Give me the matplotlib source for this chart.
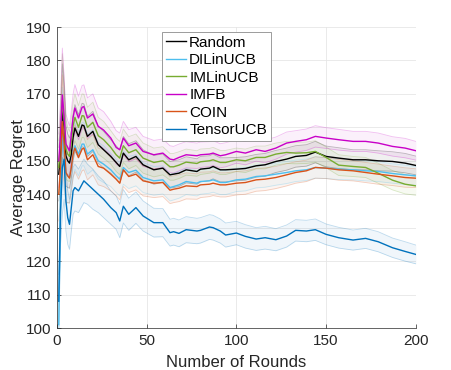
import numpy as np
import matplotlib
matplotlib.use("Agg")
import matplotlib.pyplot as plt

plt.rcParams['font.family'] = ['Liberation Sans', 'DejaVu Sans']

rounds = [1, 2, 3, 4, 5, 6, 7, 8, 9, 10, 12, 14, 15, 17, 20, 23, 26, 30, 33, 35,
          37, 40, 44, 48, 54, 59, 63, 65, 68, 72, 78, 80, 85, 87, 91, 94, 100, 105,
          111, 116, 122, 128, 133, 139, 144, 150, 157, 165, 172, 179, 187, 194, 200]

random_reg = [146, 152, 165, 160, 151.5, 150, 149.3, 152, 157, 159.8, 157.3, 160.7, 160.5,
              157.3, 158.8, 154.8, 153.3, 151.3, 149.5, 148.3, 152.3, 150.3, 151.3, 148.8,
              147.3, 147.8, 145.8, 146, 146.3, 147.3, 146.8, 147.5, 147.8, 148.3, 147.3,
              147.3, 147.5, 147.7, 148.5, 148.8, 149.8, 150.5, 151.3, 151.6, 152.6, 151.3,
              150.8, 150.3, 150.3, 150, 149.8, 149.3, 148.6]
dilinucb = [101, 140, 158, 153, 146, 145.5, 145, 148, 152, 154.5, 152, 155, 155, 152, 153.3,
            150, 149, 147.3, 145.5, 144.5, 148, 146.5, 147.2, 145, 144, 144.3, 142, 142.3,
            142.8, 143.8, 143.3, 143.8, 144, 144.3, 143.5, 143.5, 144.3, 144.5, 145.3, 145.5,
            146, 146.5, 147, 147.3, 148, 147.8, 147.5, 147.3, 147, 146.8, 146.2, 145.8, 145.5]
imlinucb = [148, 156, 168, 162, 153.5, 152, 151.3, 155.5, 160.5, 163, 160, 163.5, 163.4, 160,
            161.5, 157.5, 156.3, 154, 151.8, 150.8, 154.5, 152.4, 153.3, 150.8, 149.5, 150,
            148.2, 148.2, 148.7, 149.6, 149.2, 149.7, 150, 150.3, 149.5, 149.5, 150.3, 150,
            151, 151, 152, 152.5, 152.3, 152.4, 152.8, 151, 148.7, 148.3, 148, 146.3, 144.2,
            143, 142.5]
imfb = [150, 158, 169.7, 163, 155, 154, 153, 158, 163, 165.8, 162.8, 166, 166.2, 162.8, 164,
        160.3, 159.2, 156.8, 154, 153.3, 156.8, 154.5, 155.3, 152.8, 151.8, 152.3, 150.5, 150.3,
        151, 151.8, 151.5, 151.8, 152, 152.3, 151.5, 151.8, 152.8, 152.3, 153.3, 152.8, 153.8,
        155.3, 155.8, 156.3, 157.3, 156.8, 156.3, 155.8, 155.8, 155.3, 154.3, 153.8, 153]
coin = [140, 148, 161.7, 155, 146.5, 145.5, 144.8, 148, 152, 153.8, 151, 153.5, 153.8, 150.3,
        151.8, 148.3, 147.8, 146, 144.5, 143.3, 147.3, 145.3, 146, 144, 143.3, 143.5, 141.2,
        141.5, 141.8, 142.5, 142.3, 142.8, 143, 143.3, 142.8, 142.8, 143.3, 143.5, 144.3,
        144.5, 145, 145.8, 146.5, 147, 148, 147.8, 147.3, 147, 146.5, 146, 145.5, 145, 144.8]
tensorucb = [108, 135, 148, 150.5, 138, 133, 131, 136, 141, 142, 141, 143, 144, 143, 141.5,
             140, 138.5, 136, 134.5, 132, 136.4, 134, 136, 133.5, 131.5, 131.5, 128.5, 128.8,
             128.3, 129.4, 129, 129.2, 130.2, 130, 129, 127.8, 128.4, 127.4, 126.6, 127, 126.4,
             127.5, 129.2, 129, 129.4, 128, 127, 126.3, 126.8, 125.8, 124, 122.9, 122]

# half width of the shaded band around each curve
band_hw = [8, 10, 14, 12, 9, 8, 7.5, 7, 7, 7, 6.5, 6.5, 6.5, 6, 6, 5.5, 5.5, 5, 5, 5, 5, 4.8,
           4.7, 4.5, 4.3, 4.2, 4, 4, 4, 3.9, 3.8, 3.8, 3.7, 3.7, 3.6, 3.6, 3.5, 3.5, 3.4, 3.4,
           3.3, 3.3, 3.2, 3.2, 3.2, 3.1, 3.1, 3, 3, 3, 2.9, 2.9, 2.8]

names = ["Random", "DILinUCB", "IMLinUCB", "IMFB", "COIN", "TensorUCB"]
series = [random_reg, dilinucb, imlinucb, imfb, coin, tensorucb]
colors = ["#000000", "#4DBEEE", "#77AC30", "#C800C8", "#D95319", "#0072BD"]

x = np.array(rounds)
hw = np.array(band_hw)

fig = plt.figure(figsize=(4.52, 3.70), dpi=100)
ax = fig.add_axes([0.126, 0.1135, 0.794, 0.8135])

for y, c in zip(series, colors):
    y = np.array(y)
    ax.fill_between(x, y - hw, y + hw, color=c, alpha=0.06, linewidth=0)
    ax.plot(x, y - hw, color=c, alpha=0.25, linewidth=0.6)
    ax.plot(x, y + hw, color=c, alpha=0.25, linewidth=0.6)

for y, c, n in zip(series, colors, names):
    ax.plot(x, y, color=c, linewidth=1.0, label=n)

ax.set_xlim(0, 200)
ax.set_ylim(100, 190)
ax.set_xticks(range(0, 201, 50))
ax.set_yticks(range(100, 191, 10))
ax.grid(True, color="#e6e6e6", linewidth=0.6)
ax.set_axisbelow(True)
for s in ["top", "right"]:
    ax.spines[s].set_visible(False)
for s in ["left", "bottom"]:
    ax.spines[s].set_color("#262626")
    ax.spines[s].set_linewidth(0.5)
ax.tick_params(direction="in", length=3, width=0.5, labelsize=11, colors="#262626", pad=4)

ax.set_xlabel("Number of Rounds", fontsize=12, color="#262626", labelpad=5)
ax.set_ylabel("Average Regret", fontsize=12, color="#262626", labelpad=0)

leg = ax.legend(loc="upper left", bbox_to_anchor=(0.294, 0.984), borderaxespad=0,
                fontsize=11, handlelength=1.3, handletextpad=0.2, labelspacing=0.23,
                borderpad=0.25, fancybox=False, framealpha=1)
leg.get_frame().set_edgecolor("#8c8c8c")
leg.get_frame().set_linewidth(0.6)

fig.savefig("out.png", dpi=100)
